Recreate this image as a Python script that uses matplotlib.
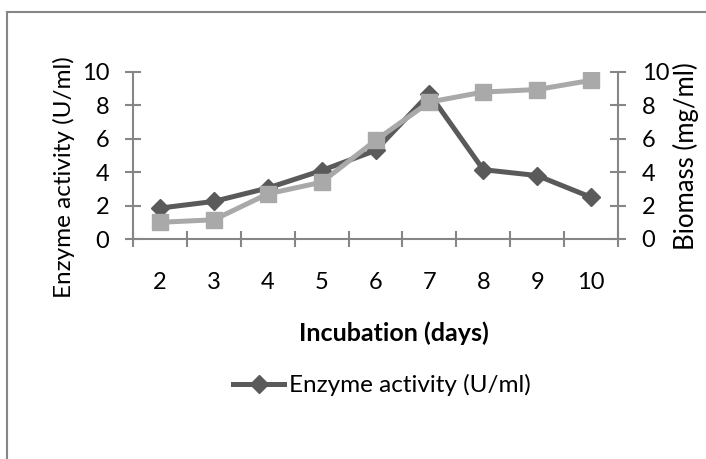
import matplotlib.pyplot as plt
from matplotlib.lines import Line2D

# datos
dias = [2, 3, 4, 5, 6, 7, 8, 9, 10]
enzima = [1.85, 2.25, 3.05, 4.1, 5.3, 8.7, 4.15, 3.8, 2.5]
biomasa = [1.0, 1.15, 2.7, 3.4, 5.9, 8.2, 8.8, 8.95, 9.5]
yticks = [0, 2, 4, 6, 8, 10]

gris_eje = "#868686"
oscuro = "#5a5a5a"
claro = "#a9a9a9"

plt.rcParams['font.family'] = ['Lato', 'DejaVu Sans']

fig = plt.figure(figsize=(7.06, 4.59), dpi=100)
ax = fig.add_axes([133 / 706, 1 - 239 / 459, (618 - 133) / 706, (239 - 72) / 459])
ax2 = ax.twinx()

x = list(range(len(dias)))
ax.plot(x, enzima, color=oscuro, lw=3.6, marker="D", ms=9.5, zorder=3,
        label="Enzyme activity (U/ml)")
ax2.plot(x, biomasa, color=claro, lw=3.6, marker="s", ms=12, zorder=3,
         label="Biomass (mg/ml)")

for a in (ax, ax2):
    a.set_ylim(0, 10)
    a.set_yticks(yticks)
    a.set_xlim(-0.5, len(dias) - 0.5)
    for s in a.spines.values():
        s.set_color(gris_eje)
        s.set_linewidth(1.5)
    a.spines['top'].set_visible(False)
    a.tick_params(axis='y', direction='inout', length=12, width=1.5,
                  color=gris_eje, labelsize=17, pad=11)

ax.spines['right'].set_visible(False)
ax2.spines['left'].set_visible(False)
ax2.spines['bottom'].set_visible(False)

ax.set_xticks(x)
ax.set_xticklabels([str(d) for d in dias])
ax.set_xticks([i - 0.5 for i in range(len(dias) + 1)], minor=True)
ax.tick_params(axis='x', which='major', length=0, labelsize=17, pad=24)
ax.tick_params(axis='x', which='minor', direction='inout', length=12,
               width=1.5, color=gris_eje)

ax.set_ylabel("Enzyme activity (U/ml)", fontsize=17.5)
ax.yaxis.set_label_coords((75 - 133) / 485, (239 - 177) / 167)
ax2.set_ylabel("Biomass (mg/ml)", fontsize=18.5)
ax2.yaxis.set_label_coords((673 - 133) / 485, (239 - 156) / 167)
ax.set_xlabel("Incubation (days)", fontsize=18, fontweight='bold')
ax.xaxis.set_label_coords((394 - 133) / 485, -(333 - 239) / 167)
ax.xaxis.label.set_va('center')

h, l = ax.get_legend_handles_labels()
fig.legend(h, l, loc='center', bbox_to_anchor=(382 / 706, 1 - 385 / 459),
           frameon=False, fontsize=17.5, handlelength=2.1, handletextpad=0.2)

# marco del area del grafico
fig.add_artist(Line2D([7 / 706, 7 / 706], [0, 1 - 12 / 459], color=gris_eje,
                      lw=1.5, transform=fig.transFigure))
fig.add_artist(Line2D([7 / 706, 1], [1 - 12 / 459, 1 - 12 / 459], color=gris_eje,
                      lw=1.5, transform=fig.transFigure))

fig.savefig("out.png", dpi=100)
